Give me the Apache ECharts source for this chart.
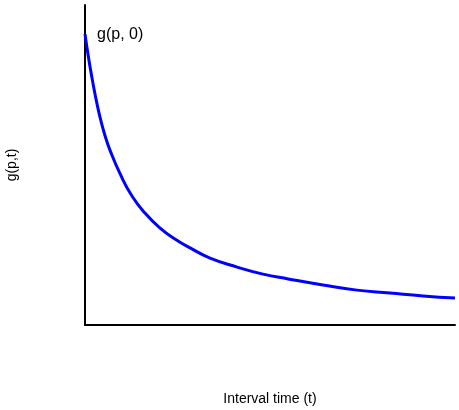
<!DOCTYPE html>
<html>
<head>
<meta charset="utf-8">
<script src="https://cdn.jsdelivr.net/npm/echarts@6/dist/echarts.min.js"></script>
<style>
  html, body { margin: 0; padding: 0; background: #fff; }
  #chart { width: 459px; height: 410px; }
</style>
</head>
<body>
<div id="chart"></div>
<script>
// interval time (arbitrary units, axis unlabeled)
const times = [0, 0.08, 0.16, 0.27, 0.41, 0.54, 0.68, 0.95, 1.27, 1.62, 2.03, 2.43, 2.84, 3.38, 4.11, 4.81, 5.49, 6.43, 7.35, 8.24, 9.14, 10];
// g(p,t)
const gValues = [9.09, 8.47, 7.91, 7.22, 6.47, 5.92, 5.45, 4.72, 4.03, 3.5, 3.03, 2.69, 2.41, 2.09, 1.81, 1.59, 1.44, 1.25, 1.09, 1.0, 0.91, 0.84];

const font = "Liberation Sans, Arial, sans-serif";
const chart = echarts.init(document.getElementById("chart"));

const option = {
  animation: false,
  grid: { left: 85, right: 4, top: 5, bottom: 85, outerBoundsMode: "none" },
  xAxis: {
    type: "value",
    min: 0,
    max: 10,
    name: "Interval time (t)",
    nameLocation: "middle",
    nameGap: 67,
    nameTextStyle: { color: "#000", fontSize: 14, fontFamily: font },
    axisLine: { show: true, lineStyle: { color: "#000", width: 2 } },
    axisTick: { show: false },
    axisLabel: { show: false },
    splitLine: { show: false },
  },
  yAxis: {
    type: "value",
    min: 0,
    max: 10,
    name: "g(p,t)",
    nameLocation: "middle",
    nameGap: 66,
    nameTextStyle: { color: "#000", fontSize: 14, fontFamily: font },
    axisLine: { show: true, lineStyle: { color: "#000", width: 2 } },
    axisTick: { show: false },
    axisLabel: { show: false },
    splitLine: { show: false },
  },
  graphic: [
    {
      type: "text",
      left: 97,
      top: 27,
      style: { text: "g(p, 0)", fill: "#000", fontSize: 16, fontFamily: font },
    },
  ],
  series: [
    {
      type: "line",
      smooth: 0.5,
      symbol: "none",
      lineStyle: { color: "#0000ff", width: 3 },
      data: times.map((t, i) => [t, gValues[i]]),
    },
  ],
};

chart.setOption(option);
</script>
</body>
</html>
